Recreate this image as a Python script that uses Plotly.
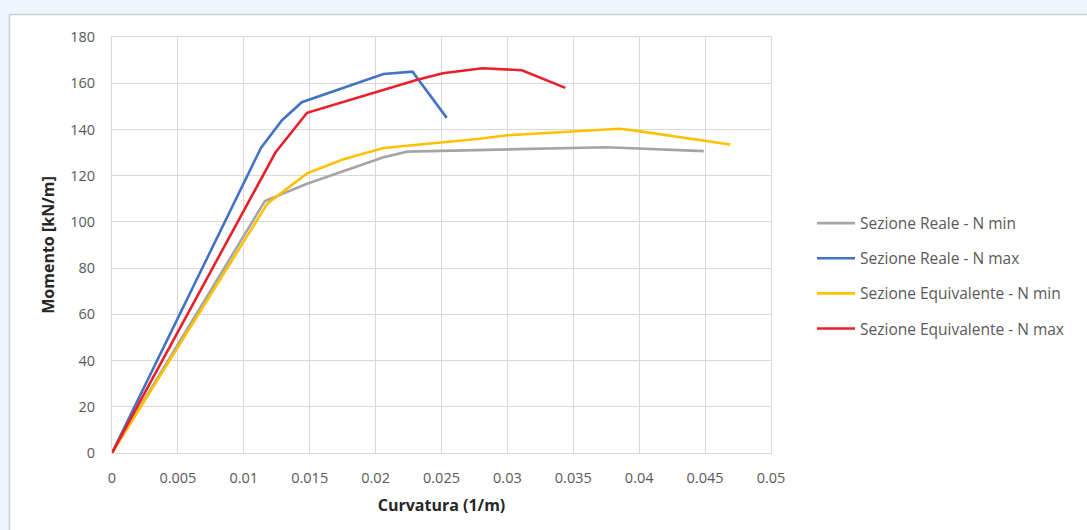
import plotly.graph_objects as go

# Data
reale_nmin_x = [0, 0.0116, 0.0148, 0.0206, 0.0224, 0.030, 0.0375, 0.0449]
reale_nmin_y = [0, 109, 116.5, 128, 130.4, 131.5, 132.3, 130.6]

reale_nmax_x = [0, 0.0113, 0.0129, 0.0144, 0.0206, 0.0228, 0.0254]
reale_nmax_y = [0, 132, 144, 151.8, 164, 165, 145]

equiv_nmin_x = [0, 0.0118, 0.0148, 0.0175, 0.0206, 0.0279, 0.030, 0.0385, 0.0397, 0.0469]
equiv_nmin_y = [0, 108, 121, 127, 132, 136, 137.5, 140.3, 139.5, 133.5]

equiv_nmax_x = [0, 0.0124, 0.0148, 0.0231, 0.0251, 0.0281, 0.0311, 0.0344]
equiv_nmax_y = [0, 130, 147.2, 161.4, 164.3, 166.5, 165.6, 158]

series_names = [
    "Sezione Reale - N min",
    "Sezione Reale - N max",
    "Sezione Equivalente - N min",
    "Sezione Equivalente - N max",
]
series_colors = ["#a5a5a5", "#4472c4", "#ffc000", "#e8202a"]

x_ticks = [0, 0.005, 0.01, 0.015, 0.02, 0.025, 0.03, 0.035, 0.04, 0.045, 0.05]
x_tick_labels = ["0", "0.005", "0.01", "0.015", "0.02", "0.025", "0.03", "0.035", "0.04", "0.045", "0.05"]
y_ticks = [0, 20, 40, 60, 80, 100, 120, 140, 160, 180]

data = [
    (reale_nmin_x, reale_nmin_y),
    (reale_nmax_x, reale_nmax_y),
    (equiv_nmin_x, equiv_nmin_y),
    (equiv_nmax_x, equiv_nmax_y),
]

fig = go.Figure()
for i, ((xs, ys), name, col) in enumerate(zip(data, series_names, series_colors)):
    fig.add_trace(go.Scatter(
        x=xs, y=ys, mode="lines", name=name,
        line=dict(color=col, width=2.6),
        legendgroup=f"g{i}",
    ))

W, H = 1087, 530
L, R, T, B = 112, 771, 37, 453
pw, ph = R - L, B - T

def px_x(px):
    return (px - L) / pw

def px_y(py):
    return (B - py) / ph

font_family = "Open Sans, Liberation Sans, sans-serif"
text_col = "#595959"
grid_col = "#d9d9d9"

fig.update_layout(
    width=W, height=H,
    margin=dict(l=L, r=W - R, t=T, b=H - B, autoexpand=False),
    paper_bgcolor="white",
    plot_bgcolor="white",
    font=dict(family=font_family, size=14, color=text_col),
    showlegend=True,
    legend=dict(
        x=px_x(812), y=px_y(276), xanchor="left", yanchor="middle",
        font=dict(size=15.5, color=text_col),
        tracegroupgap=12,
        traceorder="grouped",
        itemwidth=38,
        bgcolor="rgba(0,0,0,0)",
    ),
    xaxis=dict(
        range=[0, 0.05], tickvals=x_ticks, ticktext=x_tick_labels,
        showgrid=True, gridcolor=grid_col, gridwidth=1,
        showline=True, linecolor=grid_col, mirror=True,
        zeroline=False,
        ticks="outside", ticklen=12, tickcolor="rgba(0,0,0,0)",
        tickfont=dict(size=14.5, color=text_col),
        title=dict(text="<b>Curvatura (1/m)</b>", font=dict(size=16, color="#262626"), standoff=13),
        automargin=False,
    ),
    yaxis=dict(
        range=[0, 180], tickvals=y_ticks,
        showgrid=True, gridcolor=grid_col, gridwidth=1,
        showline=True, linecolor=grid_col, mirror=True,
        zeroline=False,
        ticks="outside", ticklen=13, tickcolor="rgba(0,0,0,0)",
        tickfont=dict(size=14.5, color=text_col),
        title=dict(text="<b>Momento [kN/m]</b>", font=dict(size=16, color="#262626"), standoff=11),
        automargin=False,
    ),
    shapes=[
        # light blue page band on top
        dict(type="rect", xref="paper", yref="paper",
             x0=px_x(0), x1=px_x(W), y0=px_y(14), y1=px_y(0),
             fillcolor="#eef5fc", line=dict(width=0), layer="below"),
        # light blue strip on left
        dict(type="rect", xref="paper", yref="paper",
             x0=px_x(0), x1=px_x(9.5), y0=px_y(H), y1=px_y(0),
             fillcolor="#eef5fc", line=dict(width=0), layer="below"),
        # chart box border (top and left)
        dict(type="line", xref="paper", yref="paper",
             x0=px_x(9.5), x1=px_x(W), y0=px_y(14.5), y1=px_y(14.5),
             line=dict(color="#c8cdd2", width=1.5)),
        dict(type="line", xref="paper", yref="paper",
             x0=px_x(9.5), x1=px_x(9.5), y0=px_y(14.5), y1=px_y(H),
             line=dict(color="#c8cdd2", width=1.5)),
    ],
)

fig.write_html(
    "out.html",
    config={"displayModeBar": False},
    post_script="document.body.style.margin='0px';document.body.style.overflow='hidden';",
)
